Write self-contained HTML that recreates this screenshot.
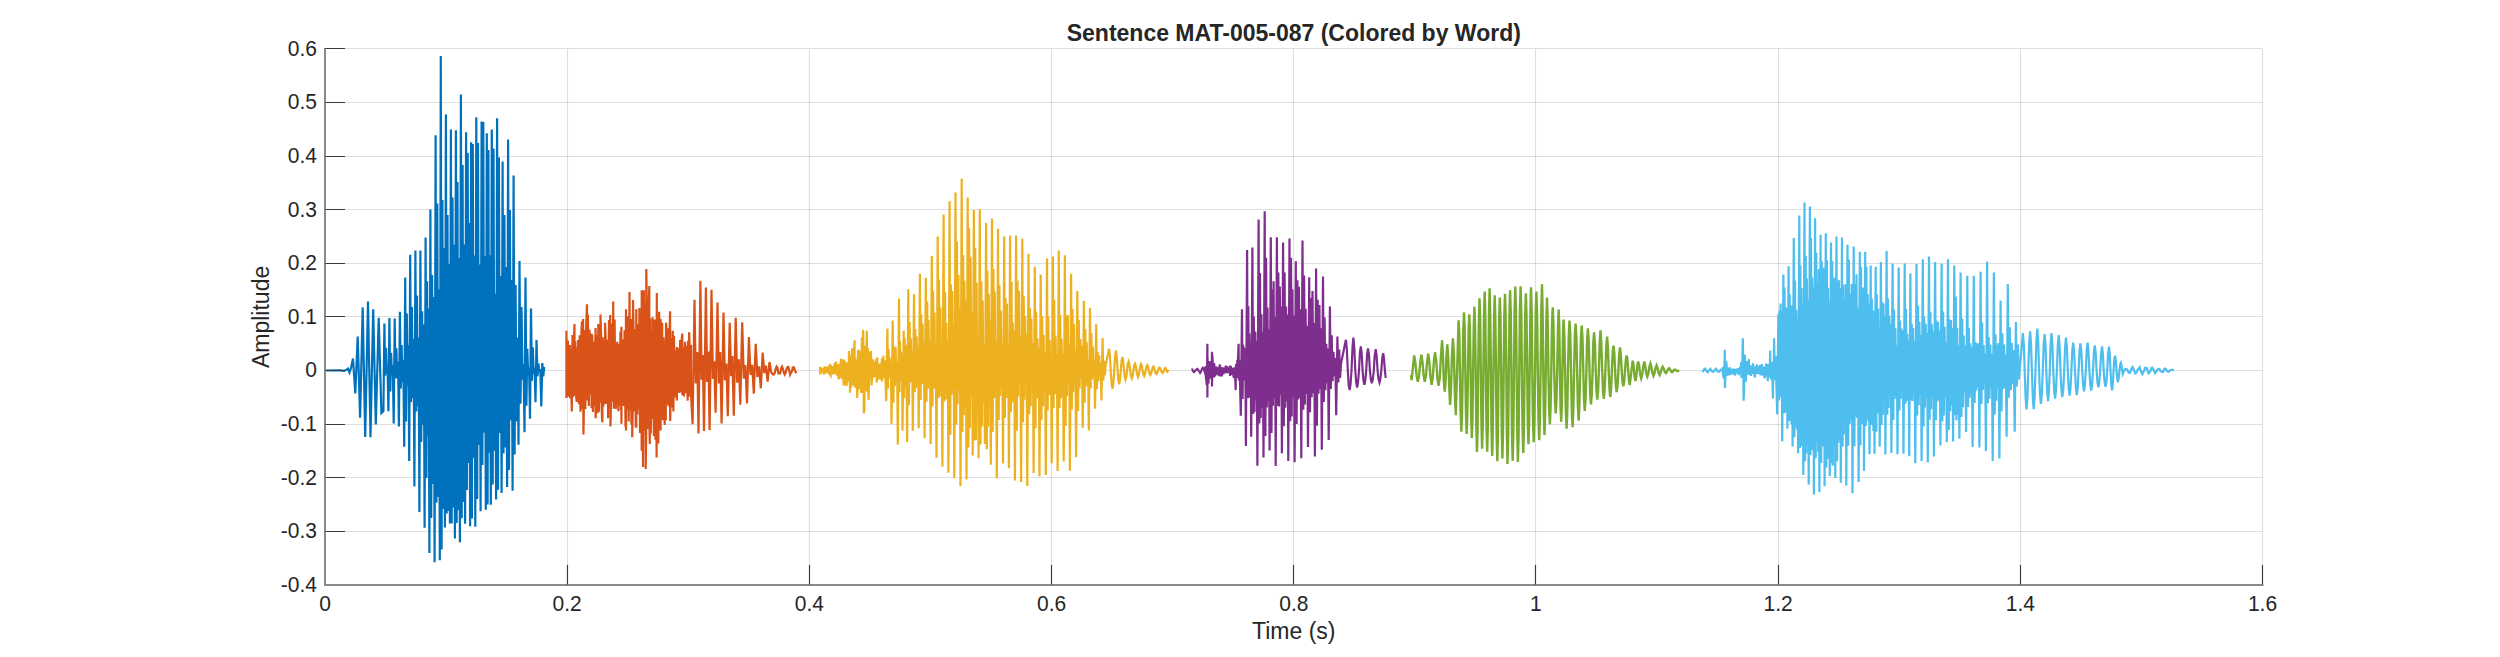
<!DOCTYPE html>
<html lang="en"><head><meta charset="utf-8"><title>Sentence MAT-005-087 (Colored by Word)</title>
<style>html,body{margin:0;padding:0;background:#fff}body{width:2500px;height:657px;overflow:hidden}svg{display:block}text{font-family:"Liberation Sans",sans-serif;fill:#262626}</style></head><body>
<svg width="2500" height="657" viewBox="0 0 2500 657">
<rect width="2500" height="657" fill="#fff"/>
<path d="M325.5 48.9V584.9M567.5 48.9V584.9M809.5 48.9V584.9M1051.5 48.9V584.9M1293.5 48.9V584.9M1535.5 48.9V584.9M1778.5 48.9V584.9M2020.5 48.9V584.9M2262.5 48.9V584.9" stroke="#262626" stroke-opacity="0.15" stroke-width="1.1" fill="none"/>
<path d="M325.0 48.5H2262.5M325.0 102.5H2262.5M325.0 156.5H2262.5M325.0 209.5H2262.5M325.0 263.5H2262.5M325.0 316.5H2262.5M325.0 370.5H2262.5M325.0 424.5H2262.5M325.0 477.5H2262.5M325.0 531.5H2262.5M325.0 584.5H2262.5" stroke="#262626" stroke-opacity="0.15" stroke-width="1.1" fill="none"/>
<!--WAVE--><path d="M325.3 370.5l14.7-.2 4 .6 2.5-1.1 1.5-1.3 1.5 4 1.5-4.5 2-9.4 2.3 34.9 2.4-56.9 2.4 81 2.6-110.2 2.5 129.5 2.8-135.5 2.5 135.9 2.7-128.1 2.6 115.2 2.9-106.5 2.7 95.2 2-1.9 1-87.8 .8 52.3 .8-28 .8 25.6 .8-5.2 .8 43.1 1-93.3 .9 73.5 .8-38.6 .9 22.7 .8-10.2 .9 58.3 1-105.2 .8 59.8 .9-30 .8 30.3 .9-16.9 .8 65 1-114.9 .9 76.8 .8-43.4 .9 37.1 .8-22.2 .9 86.7 1-169.3 .8 144.1 .8-108 .8 72.1 .8-40.4 .8 115.7 1-206.2 .8 147.5 .9-95.2 .8 91.2 .9-59.4 .8 147.6 1-235.9 .8 160.9 .8-115.8 .8 111 .8-69.1 .8 174.6 1-261.6 .8 191.4 .9-130.6 .8 113.4 .9-100.3 .8 203.3 1-290.2 .8 240.5 .7-196.7 .8 154.5 .7-127.2 .8 244.3 1-343.3 .8 308.5 .9-243.1 .8 208.9 .9-187 .8 265.3 1-427 .8 367.4 .9-299 .8 293.5 .9-207.7 .8 270.8 1-504.2 .8 493.6 .8-349.6 .9 309 .8-261 .8 279.4 1-413 .8 399.2 .8-298.6 .8 296 .8-247 .8 259.5 1-394.1 .8 394.1 .8-325.9 .8 309.9 .8-262.8 .8 293.7 1-408.2 .8 392.8 .8-341 .8 328 .8-251.9 .8 284.1 1-447.7 .8 423.8 .9-353.3 .8 337 .9-257.6 .8 279.4 1-391.6 .8 357.9 .8-337.1 .8 310 .8-240 .8 303.3 1-384.1 .8 376.3 .9-374.5 .8 313.9 .9-202.5 .8 271.4 1-409.6 .9 381.7 .8-355.9 .9 302 .8-180.4 .9 246.6 1-389.8 .8 343.5 .9-342.9 .8 310.8 .9-176.9 .8 253.8 1-376.5 .8 371.4 .8-354.6 .8 302.8 .8-197.6 .8 249.6 1-375.4 .9 355.2 .8-336.2 .9 302.3 .8-157 .9 205.7 1-381.2 .9 371.6 .9-332.2 .9 275.4 .9-156.9 .9 216.9 1-331.6 .9 292.1 .9-238.5 .9 232.4 .9-180.3 .9 219.9 1-347.6 .9 330.6 .9-260 .9 210.2 .9-140.1 .9 210.7 1-315.2 1 278.9 1-169.6 .9 136.5 1-84 1 107.3 1-183.7 1 142.8 1-96.7 1 72.7 1-15.9 1 68.4 1-154.9 .9 128.3 .9-56.9 .9 26.8 .9-7.8 .9 50.9 1-110.3 .9 72.2 .9-33.2 .9 26.7 .9-6.6 .9 34.7 1-62.3 1 36.5 .9-12.8 1 9 .9-3.6 1 37.4 1-43.4 1 13.3 .9-9.5" stroke="#0072bd" stroke-width="2.2" fill="none"/>
<path d="M566.4 332.1l0-1.3 0 67.1 .9-9 .6-48.3 .8 56.2 .7-47.4 .6-4.4 .2 53.2 .7-48.1 .7 53.5 .2 7.9 .7-76.6 .7 62.2 .7-53.8 .6-19.3 0 71.6 .7-54.3 .9 52.9 .6 7.8 .2-54.4 .6 46.1 .5-53.7 .1 8.2 .9 56.1 .7-69.1 .8 76.5 .9-80 .6-10.3 .2 87.9 .9-90.2 .3 115.4 .3-12 .9-92.6 .7 79 .9-83.8 .8-20.8 0 96.3 .9-86.1 .7 83.3 .3 8.2 .6-76.6 .8 65.4 .7-57.4 .6-3.9 0 74.7 .7-73.2 .7 77.1 .8-70.3 .8 64.5 .7-63.5 .3-14.8 0 90.2 .4-13.2 .9-69.8 .6 78.1 .8-89.4 .7 87.9 .6-83.1 .7 74.1 .2-88.2 .6 21.7 .8 80.4 .5 5.6 .2-85 .8 69.2 .8-66.5 .8 64 0-81.3 .8 17.7 .8 63.6 .9-64.2 .6 78.4 .7-79.6 .2-18.6 .6 88 .6-92.9 .3 111.3 .4-21.9 .7-81.1 .8 78.3 .7-73.6 .1-26.5 .6 107.1 .8-89.2 .9 87.1 .5 2.2 .3-65.7 .6 59.5 .4-60.9 .3 10.1 .8 59.5 .6-67.1 .7 61.3 .7-73.8 .6 78.5 .4-83.4 0 96.9 .4-81.2 .7 62.4 .7-65.7 .6 66.7 .8-75.6 .9 96.5 .5-117.6 0 121.2 .4-100.4 .7 79.9 .8-93.6 .8 105.2 .7-104.7 .1-24.7 .7 118.4 .6-91.6 .6 105.5 .7-99.2 .1 112 .5-24.8 .3-112.4 .4 20.4 .8 90.9 .7-82.3 .9 98.2 .5-118 0 118.5 .3-100.4 .8 87.2 .6-90.2 .8 84.6 .6-100.8 .6 124.9 .1-16.5 .9-105.2 .7 139.5 0-160.6 .7 28.6 .6 148.2 .2-36.2 .7-140.5 .8 140.8 .7-127.2 .3 165 .5-37.5 .1-162.3 .6 40.5 .7 119.3 .9-113.7 .8-29.1 0 132.8 .5 25.1 .3-125.5 .7 115.1 .8-102.2 .6 87.8 .3-101.9 .5 9.5 .9 109.3 .6-116.5 .9 120.2 .7-118.6 .5 136.3 .2-164.6 .1 151.1 .6-126.1 .8 125.7 .8-131.8 .9 100.6 .6-93.7 0 111.7 0-96.7 .7 77.4 .8-88.3 .8 97.4 .6-82.9 .9 67.7 .3 20 .5-84.6 .6 79.8 .2-97.5 .7 9.1 .6 73 .7-76.5 .8 77.9 .7-71.7 .6-23.2 0 109.7 .2-2.5 .8-80.2 .8 69.1 .7-75.1 .2-1.5 .5 73 .1 7.7 .6-75.7 .9 61.8 .6-47.2 .6 44.7 .8-48 0 53.5 .1-45 .7 35.6 .8-42.9 .8 44.6 .8-52.9 .7 52.3 .8-51.4 .7-7.4 0 61.7 .1-8.8 .8-39.2 .8 49.3 .8-44.2 .2-10.6 .5 51.5 .9-47.7 .9 43.4 .4 11.7 .4-59.8 .8 55.8 .2-64.4 .7 17.3 .8 42.2 .4-46.7 0 50 1.6 29.2 1.9-124.5 1.3 83.8 1.4-31.4 1.3 81.4 1.9-152.8 1.2 99 1.2-24.6 1.2 75.9 1.9-143.5 1.2 94.4 1.3-30.5 1.2 78.6 1.9-140.3 1.4 89.1 1.3-17.6 1.4 51.6 1.9-110.4 1.4 81 1.3-31.3 1.4 71.3 1.9-111 1.4 67.9 1.5-16.7 1.4 52.7 1.9-93.6 1.4 53.4 1.3-20 1.4 59.7 1.9-98 1.5 64.9 1.6-23.3 1.5 45.3 1.9-82.5 1.6 56.3 1.6-13.4 1.6 38.3 1.9-66.3 1.6 37.7 1.7-9.9 1.6 28.7 1.9-49.8 1.7 33.2 1.7-10.6 1.7 21.9 1.9-35.8 1.6 20.6 1.7-7.4 1.6 15.9 1.9-19.6 1.6 10.1 1.9 2.4 .9-.1 .9-1.6 .9-3.9 .9-2.3 .9 1.4 .9 5.5 .9-0 .9-.2 .9-4.6 .9-2 .9 2.1 .9 3.5 .9 2.2 .9-1.6 .9-3.6 .9-2.2 .9-.2 .9 3.2 .9 4.5 .9-2 .9-1.1 .9-3.9 .9-.4 .9 2.3 .9 2.3 .9 1.5" stroke="#d95319" stroke-width="2.2" fill="none"/>
<path d="M820.0 368.7l0-2 .3 7.5 .5-1.7 .8-4.8 .7 4.6 .9-4.1 .7 6.4 .8-8.3 .8 7.1 .7-6.6 .9 6.4 .9-6.9 .7 7.7 .8-6.7 .5-3.3 .1 10.6 .4 .7 .4-9.9 .9 9.1 1-8.2 .9 7.8 .9-11.1 .7 10.8 .7-12.2 .8 14.2 .7-11.2 .8 10.4 .5 4.4 .3-15.7 .9 14.1 1-17.1 .2-1.8 .7 20.4 .7-20 1 24.3 .3 1.9 .5-25.8 .7 24.4 .8-21.7 .7 23.6 .9-23.7 .9 19.2 .6-30.4 .1 9.6 .9 29.1 0 2.9 .7-37.1 .6 31.9 .8-39.2 .9 36.6 1-29 .6-15.7 0 46.9 .7-29.8 .8 30.6 .7-28 .4 38 .5-13 .3-33.9 .6-.2 .8 38.1 .8-37.8 .8 42 .9-55.8 .8 55.4 .4-62.8 .4 21.1 .3 62.3 .5-2.3 .8-65.2 .6 45 .8-38.2 .3-21.8 .6 61.5 .6-44.2 .5 51.8 .3-9.8 .8-38.4 .9 27.9 .4-28.5 .2 5.9 .5 28.5 .5-7.9 .7-18.3 .8 18.4 .7-15.6 .9 14.9 .7-17.7 .7 18.8 .2 4.4 .3-25.2 .3 6.5 .8 16.1 .7-15.8 .8 14.6 .6-15.3 .8 16.3 .8-21.4 0 23.1 .6-4.6 .9-19.2 0-1.8 .8 22.2 .7-17.7 1.3 40.9 1.2-72.6 .6 60.1 .6-39.7 .6 28.9 .5-20.7 .6 18.2 .6-11.5 .6 59.9 1.2-103.3 .7 82.3 .8-56.6 .7 39.9 .7-38.9 .7 32.3 .8-18 .7 82.9 1.2-145.8 .5 93.6 .5-51.4 .5 40.7 .5-29.8 .5 26.9 .5-24.7 .5 76.5 1.2-99.6 .5 67.3 .5-59.8 .5 49.5 .4-43 .5 35.1 .5-28.4 .5 90.4 1.2-152.6 .6 115.6 .7-82.9 .6 60.3 .7-43.8 .6 38.7 .7-22.9 .6 76.4 1.2-136.4 .7 97.7 .6-63 .7 59.1 .7-51.6 .7 41.4 .6-30.1 .7 80.4 1.2-154.5 .7 126.4 .6-85.9 .7 70.1 .7-60.9 .7 55.6 .6-37 .7 96.3 1.2-160.6 .7 124.1 .7-100.3 .7 87.1 .6-68.8 .7 62.1 .7-40.9 .7 103.2 1.2-188.3 .7 150.3 .6-115.4 .7 98 .7-76.2 .7 69.8 .6-36.3 .7 111.6 1.2-221.2 .7 161.5 .6-118.5 .7 116.9 .7-88.9 .7 76.6 .6-37.2 .7 119.5 1.2-251.8 .7 187 .7-109.7 .7 107.7 .6-76.5 .7 62.6 .7-45.7 .7 132.8 1.2-271.6 .7 233.6 .6-150.2 .7 110.2 .7-103.7 .7 99.2 .6-64.9 .7 152.8 1.2-285.7 .7 231.9 .7-182.9 .7 162.8 .8-129.4 .7 114.7 .7-81.1 .7 177.4 1.2-307.5 .7 253.5 .7-177 .7 160.3 .6-134.5 .7 124.7 .7-104.8 .7 179 1.2-282.1 .7 250.1 .7-219.6 .7 200.2 .8-171.5 .7 139.4 .7-83 .7 142.3 1.2-245.4 .7 230.6 .6-192.5 .7 191.9 .7-157.2 .7 120.3 .6-62 .7 117.1 1.2-249.2 .7 235.4 .8-163.1 .7 145.2 .7-126 .7 102.8 .8-58.3 .7 99.1 1.2-221 .7 226.2 .6-178.7 .7 156.2 .7-132.8 .7 105.7 .6-79.4 .7 144.4 1.2-246.3 .7 213.5 .7-162.8 .7 128.8 .6-106.4 .7 102.1 .7-52.1 .7 136.8 1.2-249.6 .7 191.3 .7-134.9 .7 110.6 .8-85.2 .7 76.3 .7-43.5 .7 120.1 1.2-227.2 .7 181.7 .6-119.9 .7 100.1 .7-94.7 .7 85.3 .6-44.7 .7 124.3 1.2-232.7 .7 176.7 .7-130.4 .7 120.5 .6-79.8 .7 60.6 .7-52.7 .7 150 1.2-244.9 .7 195.2 .7-150.4 .7 116 .8-105.6 .7 93.3 .7-46.8 .7 144.8 1.2-243.4 .7 183.5 .7-126.3 .7 103.9 .8-83.7 .7 68.3 .7-50.9 .7 152.6 1.2-232.4 .7 160.8 .8-106.4 .7 97.8 .7-87.4 .7 64.6 .8-40.2 .7 130 1.2-206.1 .7 161.5 .6-116.9 .7 87 .7-59.9 .7 44.4 .6-35 .7 128.3 1.2-201.6 .7 145.7 .8-104.1 .7 90 .7-71.3 .7 51.8 .8-33.9 .7 122.1 1.2-216.5 .7 152.1 .6-93.7 .7 78.2 .7-55.1 .7 46.3 .6-31.3 .7 108.3 1.2-206.7 .7 151.5 .6-108.1 .7 94.3 .7-58.6 .7 50.3 .6-31.6 .7 116.7 1.2-220.5 .7 157.4 .7-93.4 .7 83.8 .7-59.6 .7 50.5 .7-35.4 .7 107.8 1.2-206.3 .7 170.8 .7-110.2 .7 79.8 .8-80.6 .7 64.9 .7-35.2 .7 125.9 1.2-197 .7 135.8 .7-100.5 .7 83.3 .8-68.6 .7 60.1 .7-33 .7 106.4 1.2-166.1 .8 119.9 .7-90.9 .8 68.3 .8-49.5 .8 38.9 .7-31.7 .8 81.7 1.2-127.1 .7 102 .7-73.6 .7 57.4 .7-44.2 .7 35.5 .7-17.8 .7 70.4 1.2-122.6 .7 80.8 .7-55.7 .7 46.6 .8-32.9 .7 30 .7-17.5 .7 49.7 1.2-84.6 .7 65.1 .8-37.3 .7 29.2 .8-25.9 .7 19.2 .8-11.4 .7 37.5 1.2-62.6 .7 42.6 .8-19.9 .7 14.7 .8-9.7 3.4-16.9 .9 6.5 .8 15.2 .9 13.4 .9 5 .9-5.8 .8-12.6 .9-14.3 .9-5.7 .8 6.4 .8 13.6 .8 10.1 .8 3.6 .8-4.5 .8-9.2 .8-10.2 .8-3.4 .8 4.4 .8 9.2 .7 6.7 .8 2.5 .8-2.8 .8-6.4 .7-6.8 .8-2.2 .8 2.8 .8 6.2 .8 5.6 .8 2.2 .8-2.4 .8-5.4 .8-5.1 .8-1.8 .8 2.1 .7 4.8 .8 4.8 .7 1.9 .8-2.1 .7-4.6 .8-4.6 .7-1.9 .8 2 .8 4.5 .8 4 .8 1.6 .7-1.8 .8-3.8 .8-3.9 .8-1.4 .8 1.7 .7 3.6 .8 3.2 .7 1.3 .8-1.4 .7-3.1 .8-2.9 .7-1.1 .8 1.3 .8 2.7 .7 2.6 .8 .9 .8-1.1 .8-2.4 .7-2.2 .8-.8 .8 .9 .7 2.1 .8 1.8 .7 .6 .8-.8 .7-1.6 .8-1.9 .7-.7 .4 .9 .5 1.7 .4 1.1 .5 .3 .4-.5 .4-.9 .5-.5" stroke="#edb120" stroke-width="2.2" fill="none"/>
<path d="M1192.0 368.5l.9 2.5 .9 1 .9-.5 .9-1.2 .9-.9 .9-.5 .9 1.4 .9 1 .9 1.5 .9-1.4 .9-2.2 .9-1.5 .9 .5 .9 3.1 1.2-4.5 0-.8 0 10 1 9.2 .6-41.4 0 53.7 .1-40 .9 26.2 1-21.7 .1 0 0 16 .6-1.3 .9-14.8 .7 17.2 .3-27.3 0 34.7 .4-31.1 1 21 .6-13.4 0 14.5 .2-13.7 .9 12.7 .9-10.1 .9 8.3 .8-7.3 .8 8.2 .7-7.9 .8-3.2 0 12 .1-3 .8-6.4 .8 9.3 .8-9 .7 7 .8-6.8 .9 5.8 .9-7.8 .7 7.5 .8-6.7 .8 6.8 .8-5.1 .9 4.9 .2-7.5 0 10.5 .7-10.1 1 9 1-7 .8 8.7 .5 .4 .4-9.8 1 14.9 .3 8 .3-26.1 .4 2.7 .7 9.4 .2-16.1 .2 18 .4-16.7 .7-17.5 .3 36.6 .6-20.1 1.3 55.5 1.2-106.6 .6 89.7 .5-54.2 .6 35.7 .5-32.9 .6 32.1 .5-29.2 .6 95.6 1.2-195.9 .6 148.2 .6-92.1 .6 91.4 .5-64 .6 56.1 .6-46.1 .6 93.1 1.2-189.3 .7 166.7 .7-97.7 .7 95.8 .8-80.6 .7 68.6 .7-59.5 .7 125 1.2-246.3 .7 204 .7-150.4 .7 145 .7-103.8 .7 93.7 .7-76 .7 125.7 1.2-246.4 .7 224.8 .7-178.2 .7 149.6 .7-99.9 .7 93.7 .7-71.9 .7 121.1 1.2-213.1 .7 195.8 .7-143.5 .7 116.1 .7-124.4 .7 117.1 .7-81.7 .7 149.3 1.2-228.7 .7 168.5 .7-133.4 .7 134.1 .8-119.9 .7 108.7 .7-88.8 .7 146.7 1.2-210.6 .7 183.6 .8-153.6 .7 135.1 .8-101.1 .7 94.8 .8-86.9 .7 146.6 1.2-222.5 .7 182.6 .8-163.4 .7 158.7 .7-127.3 .7 107.8 .8-81.5 .7 146.8 1.2-201 .8 162.7 .8-143.8 .8 119.3 .7-112.8 .8 111 .8-88.5 .8 149 1.2-217.7 .8 169.2 .8-134.3 .8 129.1 .7-95.7 .8 85.3 .8-68.3 .8 121.1 1.2-169.7 .8 135 .8-114.3 .8 99.4 .9-106.3 .8 102.2 .8-70.1 .8 133.3 1.2-188 .8 157.3 .8-126 .8 94.1 .9-88.9 .8 84.7 .8-61.3 .8 121.4 1.2-173.3 .8 125.5 .8-84.5 .8 72.9 .9-46.6 .8 39.6 .8-34.8 .8 91.6 1.2-133.6 .9 82.5 .9-53.8 .9 45.9 .9-29.4 .9 24.4 .9-18.4 .9 57.5 1.2-78.6 .9 45.9 .9-33 .9 28.4 .9-14.4 4.9-23.7 .9 8.8 1 21.9 .9 14.8 1 4.7 .9-6.7 .9-12.8 1-23 .9-9.8 .9 10.4 1 22.4 .9 12.1 .9 4.9 .9-5 1-12 .9-17.7 .9-6.3 .9 7.2 .9 16.8 .9 10.3 .9 3.9 .9-4.3 .9-9.9 .9-15.9 .9-6.3 1 6.6 .9 15.6 1 9.1 .9 3.7 1-3.8 1-9 .9-15.2 1-6.2 .9 6.6 1 14.8 .9 8.6 1 3.4 .9-3.7 .9-8.3 1-12.7 .9-4.7 .8 5.7 .9 11.7 .8 7.3" stroke="#7e2f8e" stroke-width="2.2" fill="none"/>
<path d="M1411.0 375.0l.6 5 2.6-24.5 1.2 7.4 1.2 13 1.2 5.8 1.2-5.5 1.2-13.5 1.2-8 1.1 7.8 1.2 13.6 1.1 5.7 1.1-5.5 1.2-14.2 1.1-8.5 1.1 8.3 1.2 15.4 1.1 7.4 1.1-6.9 1.2-16.3 1.1-9.2 1.2 8.1 1.2 17.7 1.1 7.6 1.2-7.2 1.2-22.1 1.2-16.1 .9 15.4 .8 24.9 .9 11 .9-9.9 .8-24.6 .9-12.8 .9 12.6 1 29.6 .9 18.4 .9-16.2 1-33.8 .9-16.5 1 14.5 .9 39.1 1 23.2 2.8-94.9 .7 14 .6 36.2 .7 41.8 .7 19.5 .7-16.8 .7-44.5 .6-40.4 .7-17.7 .7 17.2 .6 40.9 .7 44.8 .7 18.7 .6-18.4 .7-45.1 .6-39.8 .7-16.3 .6 15.8 .7 40.3 .6 47.3 .6 20.1 .7-18.9 .6-48.5 .7-44.4 .6-19.3 .6 17.9 .7 45.8 .6 56.3 .7 25.1 .6-23.3 .6-58.1 .7-50.2 .6-21.9 .7 20.5 .6 51.6 .7 55.6 .6 22.5 .7-23.1 .6-55 .6-55.2 .7-23.7 .6 22.8 .6 56.1 .6 57.1 .7 24.1 .6-23.5 .6-57.7 .6-57.8 .6-24.3 .6 24.7 .7 57.4 .6 60 .7 25.4 .6-24.7 .6-60.7 .7-53.8 .6-21.4 .6 22.2 .7 53 .6 63.7 .7 27.1 .6-26.1 .6-64.7 .7-51.8 .6-21.2 .7 21 .6 52 .7 62.6 .6 25.4 .6-26.1 .7-61.9 .6-54 .7-22.8 .6 22.2 .7 54.6 .6 65.5 .6 28 .7-26.8 .6-66.7 .7-56.4 .6-23.8 .7 23.2 .6 57 .6 64.3 .7 26.1 .6-26.8 .7-63.6 .6-59.1 .7-24.9 .7 24.6 .6 59.4 .7 64.5 .6 27 .7-26.8 .7-64.7 .6-59.5 .7-24.7 .7 25.3 .6 58.9 .7 59.2 .7 23.3 .6-25.1 .7-57.4 .6-55.3 .7-22 .6 22.1 .7 55.2 .6 52.8 .7 20.8 .6-22.2 .6-51.4 .7-58.3 .6-24.9 .7 24.7 .6 58.5 .7 50.8 .7 20.9 .7-21.1 .7-50.6 .6-56.2 .7-22.7 .7 22.5 .7 56.4 .7 49.5 .7 20.2 .7-20.7 .7-49 .7-60.2 .7-25.9 .6 26.4 .7 59.7 .6 46 .6 18.4 .6-19.5 .7-44.9 .6-52.8 .6-20.2 .7 22.2 .7 50.8 .7 39 .8 14.6 .7-16.8 .7-36.8 .7-45.6 .7-17.7 .8 18.7 .7 44.6 .8 31.2 .7 11.7 .8-13.4 .7-29.5 .8-43.3 .7-17.7 .6 18.8 .6 42.2 .6 35.4 .7 15.9 .6-14.2 .6-37.1 .6-36.9 .6-14.1 .7 15 .8 36 .7 40.5 .8 17.6 .7-16.5 .7-41.6 .8-35.4 .7-14.6 .8 14.9 .7 35.1 .8 40.4 .8 16.3 .7-17 .8-39.7 .7-33.5 .8-13.5 .8 13.9 .7 33.1 .8 36.2 .8 14.1 .7-15.4 .8-34.9 .7-32 .8-13 .8 13.4 .8 31.6 .7 29.5 .8 10.9 .8-12.7 .8-27.7 .7-30.1 .8-12.1 .8 12.7 .8 29.5 .7 24.4 .8 9.4 .8-10.5 .8-23.3 .7-27.4 .8-10.8 .8 11 .8 27.2 .8 21 .8 8.2 .8-9 .8-20.2 .8-28.2 .8-11.9 .8 12.3 .9 27.8 .8 20.1 .8 8.3 .8-8.4 .8-20 .9-24.5 .8-9.4 .8 10.7 .8 23.2 .8 18.9 .8 7.6 .8-8.1 .8-18.4 .8-18.4 .8-6.5 .8 7.5 .8 17.4 .8 15.8 .8 5.9 .9-6.9 .8-14.8 .8-16.4 .8-6.6 .8 7.4 .9 15.6 .8 11.6 .8 4.2 .9-4.8 .8-11 .9-11.3 .8-3.7 .8 4.8 .7 10.2 .8 10.5 .7 4 3-24.4 .9 5 .9 10.5 1 4.9 .9-5.5 .9-9.5 .9-4.4 1 4.4 1 8.6 1 3.7 1.1-4.1 1-8.1 1-4.5 1 4.6 1 7.5 1 2.9 1.1-3.1 1-6.7 1-3.3 1 3.7 1.1 6.1 1 2.6 1-2.7 1.1-5.4 1-2.4 1 2.7 1 4.7 1.1 2.2 1-2.4 1-4.1 1-1.8 1.1 2 1 3.3 1.1 1.2 1.1-1.5 1-2.4 1.1-1 1 1.2 1 1.9 1 .7 .9-.9 1-1.3 1-.4 .8 .6 .9 .8 .8 .2 .8-.3 .9-.5" stroke="#77ac30" stroke-width="2.4" fill="none"/>
<path d="M1702.3 372.2l.9-1.4 .9-1.6 .9-.6 .9 1.7 .9 1.1 .9 .8 .9-1.4 .9-.9 .9-1 .9 1.4 .9 1.3 .9 .2 .9-.7 .9-1.2 .9-1.1 .9 1.1 .9 1.6 .9 .1 .9-0 .9-1.5 .9-.6 .9 0 .7-.6 0-1.9 0 7 1 4.4 .8-16.5 .2-12.2 .1 38.2 .4-7.4 .8-19.3 .4 2.8 .5 9.1 0 2.9 .9-8.2 1 7.6 .8-7.1 .3-.8 .7 7.3 1-5.7 .8 4.7 .8-5.3 .7 6.4 .8-5.9 .2 6.5 .7-2.4 .8-4.5 .7 4.5 1-5 .7 7 .7-6.4 .4-1.7 .5 7.7 .8-12.7 0 3.8 .2 11.2 .6-.2 .7-38.6 .4 19.3 .4 43.2 .4-10.1 .5-35.6 .3 .6 .8 26.3 .4-3.9 .5-16.9 1 13.6 1-13.5 .4-1.9 .4 15.4 1-9.5 .7 10.8 .7-10.4 1 8.2 .3-10.4 .4 3.8 .9 7 .7 3.3 0-11 1 7.4 .8-9.6 .9 9.7 .9-7.6 .7 7.9 .8-9.5 .8 10.7 1-11.5 .8 11.3 .8-8.6 .8 9.7 .7 1.6 .3-11 .7 8.4 0-12 .7 4 .9 7.9 .1 5.8 .6-17.1 .3 2.1 1 11.1 .6-26.7 .1 10.8 .2 15.7 .8 2.3 .7-17.3 .1 1 .8 35.5 .2-12.5 .8-29.1 .2-18.7 .6 37.2 .1 4.6 .8-19 0-5 1.6 58.2 1.2-100.3 .5 86.7 .6-90 .5 86.1 .6-93.1 .5 93.8 .6-86.4 .5 130.3 1.2-166.9 .6 138.8 .5-125.8 .6 125.4 .6-105.9 .6 99.7 .5-97.5 .6 119.7 1.2-162.6 .6 154.8 .5-126.8 .6 121.9 .6-105.2 .6 113.2 .5-118.8 .6 141.3 1.2-208.6 .6 199.2 .6-156.8 .6 145.7 .7-116.4 .6 119.8 .6-110.8 .6 134.5 1.2-237.7 .6 232.5 .5-182.4 .6 180.6 .6-157.9 .6 146.1 .5-130.1 .6 170.7 1.2-272.6 .6 258.9 .6-205.5 .6 197.6 .6-174.8 .6 165.4 .6-144.5 .6 185.1 1.2-278.1 .6 248.6 .5-217 .6 211.8 .6-172.5 .6 166.8 .5-157.4 .6 207.7 1.2-276.2 .6 239.9 .6-205.4 .6 188.9 .7-158.2 .6 168.8 .6-183.2 .6 222.9 1.2-257.3 .6 228.4 .5-201.8 .6 182.3 .6-174.4 .6 177.4 .5-179.1 .6 218.7 1.2-252.9 .6 234.1 .5-207.1 .6 198.6 .6-171.2 .6 145.1 .5-130.2 .6 173.3 1.2-233.5 .6 220.8 .6-202.3 .6 204.8 .7-186.6 .6 165.7 .6-167.3 .6 200.6 1.2-241.5 .6 224.7 .6-177.7 .6 159.2 .7-162.5 .6 159.2 .6-151.5 .6 194.7 1.2-245.3 .6 209.4 .6-161.8 .6 149.5 .7-134.7 .6 118.9 .6-134.8 .6 201.7 1.2-240.8 .7 201 .7-186.3 .7 164.5 .8-130.2 .7 126.5 .7-136.3 .7 209.2 1.2-246.7 .7 199.7 .7-162.8 .7 133.2 .7-142.4 .7 143.8 .7-110.6 .7 174.5 1.2-230.2 .6 193.9 .6-178.8 .6 157.3 .6-135.1 .6 128.4 .6-130 .6 183.5 1.2-219.2 .6 174.4 .6-159.5 .6 150.3 .7-123 .6 127.6 .6-117.9 .6 150.7 1.2-188.7 .5 159.4 .6-126.5 .5 123.7 .6-111.3 .5 120.1 .6-120.4 .5 143.2 1.2-187.1 .6 165 .5-137.4 .6 119.3 .6-105 .6 98 .5-78.9 .6 119 1.2-184.6 .6 163 .7-123 .6 112.6 .7-111.3 .6 95 .7-82.2 .6 138.4 1.2-203.5 .7 163.7 .7-116.3 .7 109.5 .6-92.4 .7 80.6 .7-72.5 .7 129.3 1.2-189.5 .7 156.4 .7-110.4 .7 89.4 .7-70.7 .7 67.5 .7-50.7 .7 109.2 1.2-186.6 .7 142.8 .7-90 .7 78.4 .6-70.4 .7 63.5 .7-61.3 .7 123.2 1.2-190.3 .6 140.5 .7-95.2 .6 92.4 .7-67.4 .6 55.1 .7-48.9 .6 116.2 1.2-182.6 .7 126.7 .7-76.5 .7 77.2 .7-72.9 .7 63.8 .7-50.8 .7 122.1 1.2-199.2 .7 151.5 .8-110 .7 99.5 .7-83.2 .7 73 .8-60.1 .7 126.4 1.2-201.8 .7 167.5 .7-110 .7 90.6 .8-83.6 .7 74.6 .7-65.5 .7 129.4 1.2-205.7 .7 163.2 .7-108 .7 97.5 .7-85.1 .7 72.9 .7-65.8 .7 125.3 1.2-194.5 .8 158.2 .7-99.7 .8 80.8 .7-79.4 .8 77.5 .7-69.3 .8 115.4 1.2-181.9 .7 157.9 .8-110.1 .7 104.1 .8-88.8 .7 70.1 .8-54.6 .7 99.9 1.2-182.9 .7 170.6 .8-110.3 .7 91.7 .7-91.2 .7 84.9 .8-77.1 .7 113.5 1.2-175.9 .7 149.5 .8-118.4 .7 123.6 .7-92.3 .7 86.5 .8-69 .7 93.4 1.2-166.2 .8 144.3 .8-98.3 .8 88.6 .7-71.8 .8 57.2 .8-47.7 .8 87 1.2-156.2 .8 131.4 .7-79.1 .8 70 .7-54.8 .8 50.1 .7-45.7 .8 99.4 1.2-171.3 .8 127.4 .8-61.1 .8 48.5 .8-47 .8 43.9 .8-44.4 .8 104.6 1.2-175.9 .8 132.3 .7-81.4 .8 67.3 .7-44.8 .8 39.8 .7-30.9 .8 96.9 1.2-189.4 .8 141.8 .8-66.1 .8 61.5 .8-54 .8 43.1 .8-34.1 .8 107.3 1.2-188.6 .8 142 .8-79.8 .8 66.1 .7-56 .8 43.2 .8-44.9 .8 115.4 1.2-157.9 .9 111 .8-78.3 .9 55.8 .8-44.6 .9 43.2 .8-33.3 .9 82.5 1.2-152.7 1 113.6 1-70.5 1 63 .9-47.3 1 41.3 1-34.1 1 81.6 1.2-109.8 1 64.6 1-42 1 34.9 4-46.2 .9 10.8 .9 26.5 .9 27.3 .9 11.7 .9-11.2 .9-27.8 .9-27.5 .9-11.6 .9 11.2 .9 27.9 .9 27.4 .9 11.2 .9-11.4 .9-27.2 .9-29.4 .9-12.6 .9 12.8 .9 29.2 .9 24.2 .9 9.2 1-10.3 .9-23.1 .9-26.2 .9-10.2 .9 10.6 .8 25.8 .9 21.8 .9 8.8 .8-9.2 .9-21.4 .8-26.3 .9-11 .9 11.1 .9 26.2 .9 20.1 .9 8 .9-8.5 .9-19.6 .9-25.1 .9-10.2 .9 10.6 .9 24.7 .9 18.9 .9 7.7 1-7.9 .9-18.7 .9-23.4 .9-9.4 .9 10 .9 22.8 .9 17.9 .9 7.3 .9-7.6 .9-17.6 .9-20.1 .9-7.7 .9 8.2 .9 19.6 .9 17.4 .9 7.2 .9-7.2 .9-17.4 .9-19.3 .9-7.9 .9 7.9 .9 19.3 .9 15.1 .9 5.7 .9-6.5 .9-14.3 .9-19.6 .9-8.2 .9 8.4 .9 19.4 .9 14.2 .9 6 .9-5.9 .9-14.3 .9-18 .9-7.1 .9 7.4 .9 17.7 .9 12.3 .9 4.5 .9-5.3 .9-11.5 .9-17.1 .9-6.9 .9 7 .8 17 .9 11.5 .9 4.8 .9-4.4 .8-11.9 .9-16.8 .9-7 .8 7.8 .7 16 .8 14.2 .8 5.6 .7-6.5 .8-13.3 .7-11.3 .8-3.5 .7 5 .8 9.8 .7 9 .7 2.8 .7-4.2 .8-7.6 .7-6 .7-1.6 .6 2.7 .7 4.9 .6 3.4 .7-2 .9-1.5 .9-1.4 .9 .1 .9 .3 .9 1.7 .9 1.6 .9 .2 .9-1.9 .9-2.2 .9-1.7 .9 1.5 .9 2 .9 2.9 .9-.5 .9-1.5 .9-2.1 .9-.9 .9-1.3 .9 3.3 .9 2.1 .9 1.5 .9-2.1 .9-1.2 .9-3 .9 .2 .9 .4 .9 3 .9 1.9 .9-.9 .9-1.6 .9-2.7 .9-.4 .9 1.6 .9 1.5 .9 2.3 .9-.9 .9-1.4 .9-1.4 .9-.5 .9 .2 .9 1.9 .9 .4 .9 .4 .9 0 .9-2.2 .9-.9 .9 .5 .9 1.4 .9 1 .9 .3 .9-.6 .9-1.2 .9-.1 .9-.3 .9 .4 .9 .6" stroke="#4dbeee" stroke-width="2.2" fill="none"/>
<path d="M325 48.00V586M324 585H2263.40" stroke="#8a8a8a" stroke-width="2" fill="none"/>
<path d="M567.5 584.5v-19.5M809.5 584.5v-19.5M1051.5 584.5v-19.5M1293.5 584.5v-19.5M1535.5 584.5v-19.5M1778.5 584.5v-19.5M2020.5 584.5v-19.5M2262.5 584.5v-19.5M325.5 48.5h19.5M325.5 102.5h19.5M325.5 156.5h19.5M325.5 209.5h19.5M325.5 263.5h19.5M325.5 316.5h19.5M325.5 370.5h19.5M325.5 424.5h19.5M325.5 477.5h19.5M325.5 531.5h19.5" stroke="#3a3a3a" stroke-width="1.15" fill="none"/>
<g font-size="21" text-anchor="middle">
<text transform="translate(325.0 611) scale(1 1.055)">0</text>
<text transform="translate(567.2 611) scale(1 1.055)">0.2</text>
<text transform="translate(809.4 611) scale(1 1.055)">0.4</text>
<text transform="translate(1051.6 611) scale(1 1.055)">0.6</text>
<text transform="translate(1293.8 611) scale(1 1.055)">0.8</text>
<text transform="translate(1535.9 611) scale(1 1.055)">1</text>
<text transform="translate(1778.1 611) scale(1 1.055)">1.2</text>
<text transform="translate(2020.3 611) scale(1 1.055)">1.4</text>
<text transform="translate(2262.5 611) scale(1 1.055)">1.6</text>
</g>
<g font-size="21" text-anchor="end">
<text transform="translate(316.9 55.8) scale(1 1.055)">0.6</text>
<text transform="translate(316.9 109.4) scale(1 1.055)">0.5</text>
<text transform="translate(316.9 163.0) scale(1 1.055)">0.4</text>
<text transform="translate(316.9 216.6) scale(1 1.055)">0.3</text>
<text transform="translate(316.9 270.2) scale(1 1.055)">0.2</text>
<text transform="translate(316.9 323.8) scale(1 1.055)">0.1</text>
<text transform="translate(316.9 377.4) scale(1 1.055)">0</text>
<text transform="translate(316.9 431.0) scale(1 1.055)">-0.1</text>
<text transform="translate(316.9 484.6) scale(1 1.055)">-0.2</text>
<text transform="translate(316.9 538.2) scale(1 1.055)">-0.3</text>
<text transform="translate(316.9 591.8) scale(1 1.055)">-0.4</text>
</g>
<text x="1293.8" y="41.3" font-size="23" font-weight="bold" text-anchor="middle">Sentence MAT-005-087 (Colored by Word)</text>
<text x="1293.8" y="638.7" font-size="23" text-anchor="middle">Time (s)</text>
<text transform="translate(268.5 316.9) rotate(-90)" font-size="23" text-anchor="middle">Amplitude</text>
</svg></body></html>
